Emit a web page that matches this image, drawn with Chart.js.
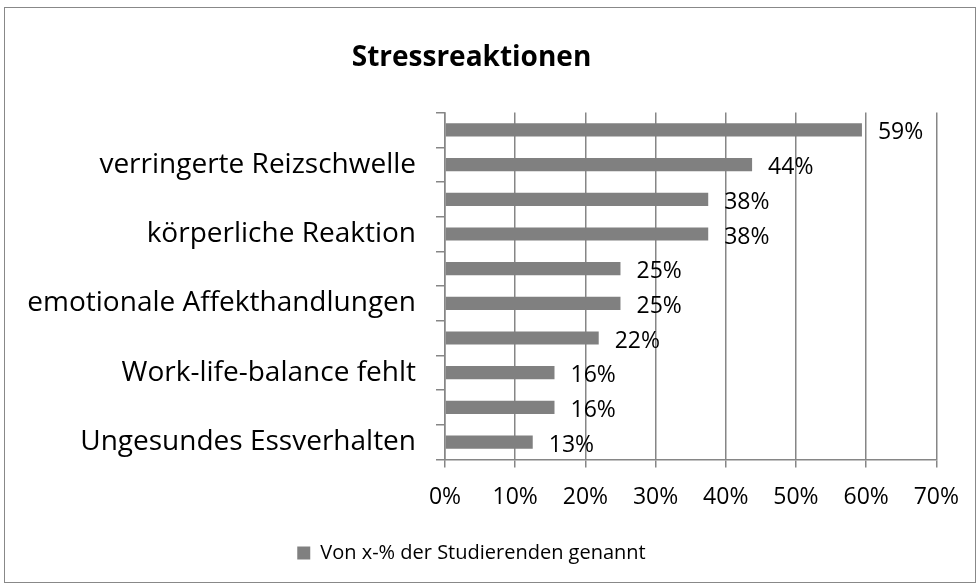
<!DOCTYPE html>
<html>
<head>
<meta charset="utf-8">
<script src="https://cdn.jsdelivr.net/npm/chart.js@4/dist/chart.umd.min.js"></script>
<style>
  body { margin: 0; background: #fff; }
  #box {
    position: absolute; left: 4px; top: 7px;
    width: 970px; height: 574px;
    border: 1px solid #888;
  }
</style>
</head>
<body>
<div id="box"><canvas id="chart" width="970" height="574"></canvas></div>
<script>
// Categories top to bottom; every second label is hidden in the original
var categories = ["", "verringerte Reizschwelle", "", "körperliche Reaktion", "",
  "emotionale Affekthandlungen", "", "Work-life-balance fehlt", "", "Ungesundes Essverhalten"];
var shares = [0.594, 0.4375, 0.375, 0.375, 0.25, 0.25, 0.219, 0.156, 0.156, 0.125];
var xTicks = [0, 0.1, 0.2, 0.3, 0.4, 0.5, 0.6, 0.7];
var seriesName = "Von x-% der Studierenden genannt";

var FONT = "'Open Sans', sans-serif";
var BAR = "#808080";
var GRID = "#868686";

// Draw the percentage labels right of each bar
var valueLabels = {
  id: "valueLabels",
  afterDatasetsDraw: function (chart) {
    var ctx = chart.ctx;
    var meta = chart.getDatasetMeta(0);
    ctx.save();
    ctx.font = "23px " + FONT;
    ctx.fillStyle = "#000";
    ctx.textBaseline = "middle";
    ctx.textAlign = "left";
    meta.data.forEach(function (bar, i) {
      ctx.fillText(Math.round(shares[i] * 100) + "%", bar.x + 16, bar.y + 3);
    });
    ctx.restore();
  }
};

new Chart(document.getElementById("chart"), {
  type: "bar",
  data: {
    labels: categories,
    datasets: [{
      label: seriesName,
      data: shares,
      backgroundColor: BAR,
      borderWidth: 0,
      barPercentage: 0.76,
      categoryPercentage: 0.5
    }]
  },
  options: {
    indexAxis: "y",
    responsive: false,
    animation: false,
    layout: { padding: { top: 0, right: 37, bottom: 9, left: 0 } },
    scales: {
      x: {
        min: 0,
        max: 0.7,
        afterBuildTicks: function (axis) {
          axis.ticks = xTicks.map(function (v) { return { value: v }; });
        },
        grid: { color: GRID, lineWidth: 1.5, tickLength: 8, drawTicks: true },
        border: { color: GRID, width: 1.5 },
        ticks: {
          color: "#000",
          font: { family: FONT, size: 23 },
          padding: 16,
          callback: function (v) { return Math.round(v * 100) + "%"; }
        }
      },
      y: {
        afterFit: function (axis) { axis.width = 440; },
        grid: { color: GRID, lineWidth: 1.5, drawOnChartArea: false, tickLength: 9, offset: true },
        border: { color: GRID, width: 1.5 },
        ticks: {
          autoSkip: false,
          color: "#000",
          font: { family: FONT, size: 28 },
          padding: 20
        }
      }
    },
    plugins: {
      title: {
        display: true,
        text: "Stressreaktionen",
        color: "#000",
        font: { family: FONT, size: 28, weight: "bold" },
        padding: { top: 33, bottom: 38 }
      },
      legend: {
        position: "bottom",
        labels: {
          color: "#000",
          font: { family: FONT, size: 20 },
          boxWidth: 13,
          boxHeight: 13,
          padding: 16
        }
      },
      tooltip: { enabled: false }
    }
  },
  plugins: [valueLabels]
});
</script>
</body>
</html>
